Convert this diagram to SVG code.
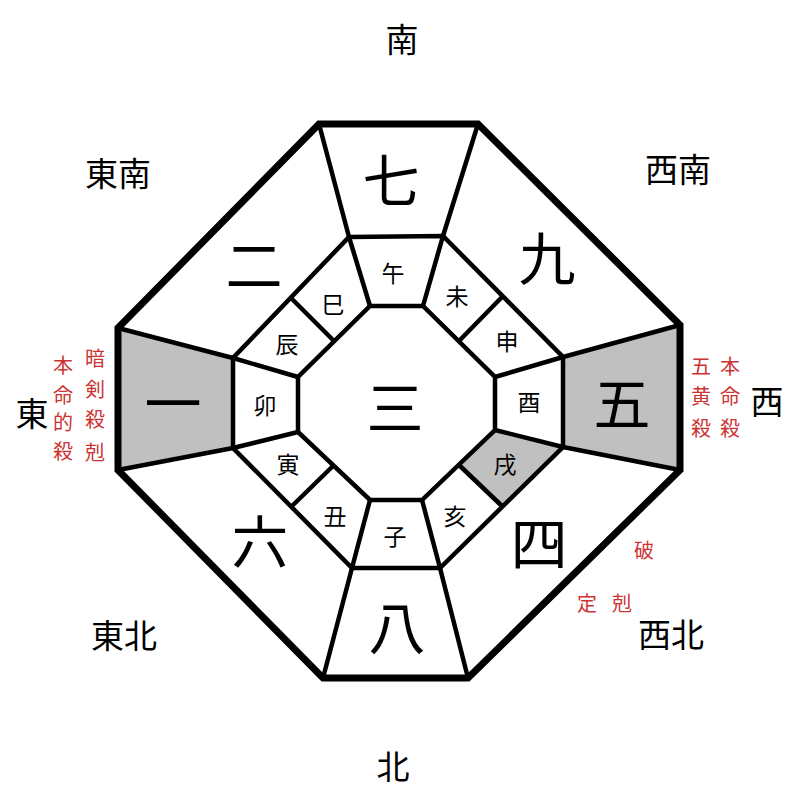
<svg xmlns="http://www.w3.org/2000/svg" width="800" height="800" viewBox="0 0 800 800">
<style>
.o{fill:none;stroke:#000;stroke-width:7;stroke-linejoin:miter}
.l{fill:none;stroke:#000;stroke-width:4.5;stroke-linejoin:miter}
.g{fill:#c0c0c0}
text{font-family:"Noto Sans CJK JP","Noto Sans CJK SC",sans-serif;text-anchor:middle;dominant-baseline:central;fill:#000}
.d{font-size:33px}
.n{font-size:57px}
.b{font-size:23px}
.r{font-size:20px;fill:#cc3333}
</style>
<rect width="800" height="800" fill="#fff"/>
<g id="shading">
<polygon class="g" points="118,328 233,358 233,448 118,470"/>
<polygon class="g" points="680,325 563,357 563,447 680,470"/>
<polygon class="g" points="563,447 495,430 459,465 503,507"/>
</g>
<g id="connectors">
<polygon class="o" points="319,124 478,124 680,325 680,470 468,678 323,678 118,470 118,328"/>
<polygon class="l" points="349,237 443,236 563,357 563,447 440,568 352,568 233,448 233,358"/>
<polygon class="l" points="370,306 423,306 495,377 495,430 422,500 370,500 298,432 298,377"/>
<path class="l" d="M319,124L349,237M478,124L443,236M680,325L563,357M680,470L563,447M468,678L440,568M323,678L352,568M118,470L233,448M118,328L233,358"/>
<path class="l" d="M349,237L370,306M443,236L423,306M563,357L495,377M563,447L495,430M440,568L422,500M352,568L370,500M233,448L298,432M233,358L298,377"/>
<path class="l" d="M503,296L459,341M503,507L459,465M291,507L334,465M290,297L334,341"/>
</g>
<g id="directions">
<text class="d" x="402" y="38">南</text>
<text class="d" x="118" y="172">東南</text>
<text class="d" x="678" y="168">西南</text>
<text class="d" x="32" y="412">東</text>
<text class="d" x="767" y="400">西</text>
<text class="d" x="124" y="634">東北</text>
<text class="d" x="671" y="633">西北</text>
<text class="d" x="393" y="765">北</text>
</g>
<g id="stars">
<text class="n" x="391" y="177">七</text>
<text class="n" x="254" y="262">二</text>
<text class="n" x="547" y="255">九</text>
<text class="n" x="173" y="400">一</text>
<text class="n" x="622" y="400">五</text>
<text class="n" x="260" y="538">六</text>
<text class="n" x="539" y="540">四</text>
<text class="n" x="397" y="624">八</text>
<text class="n" x="395" y="404">三</text>
</g>
<g id="branches">
<text class="b" x="393" y="272">午</text>
<text class="b" x="333" y="303">巳</text>
<text class="b" x="457" y="295">未</text>
<text class="b" x="507" y="340">申</text>
<text class="b" x="287" y="343">辰</text>
<text class="b" x="529" y="401">酉</text>
<text class="b" x="265" y="404">卯</text>
<text class="b" x="505" y="463">戌</text>
<text class="b" x="288" y="463">寅</text>
<text class="b" x="455" y="515">亥</text>
<text class="b" x="335" y="515">丑</text>
<text class="b" x="395" y="535">子</text>
</g>
<g id="notes">
<text class="r" x="63" y="364">本</text>
<text class="r" x="63" y="394">命</text>
<text class="r" x="63" y="421">的</text>
<text class="r" x="63" y="450">殺</text>
<text class="r" x="95" y="357">暗</text>
<text class="r" x="95" y="388">剣</text>
<text class="r" x="95" y="418">殺</text>
<text class="r" x="95" y="451">剋</text>
<text class="r" x="701" y="365">五</text>
<text class="r" x="701" y="395">黄</text>
<text class="r" x="701" y="427">殺</text>
<text class="r" x="730" y="365">本</text>
<text class="r" x="730" y="395">命</text>
<text class="r" x="730" y="427">殺</text>
<text class="r" x="644" y="549">破</text>
<text class="r" x="587" y="602">定</text>
<text class="r" x="622" y="602">剋</text>
</g>
</svg>
